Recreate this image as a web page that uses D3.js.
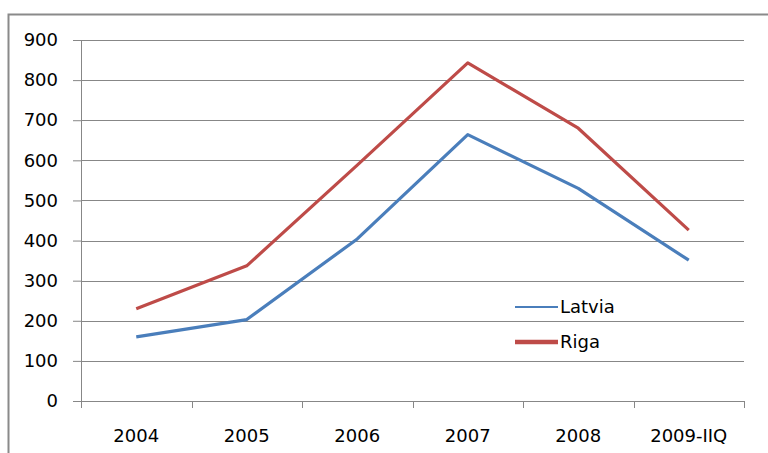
<!DOCTYPE html>
<html>
<head>
<meta charset="utf-8">
<script src="https://cdn.jsdelivr.net/npm/d3@7"></script>
<style>
  body { margin: 0; background: #fff; }
  text { font-family: "DejaVu Sans", sans-serif; fill: #000; }
</style>
</head>
<body>
<div class="canvas"></div>
<script>
// data
const years = ['2004', '2005', '2006', '2007', '2008', '2009-IIQ'];
const latvia = [160, 203, 404, 664, 530, 351];
const riga = [230, 337, 588, 843, 680, 426];
const yTicks = [0, 100, 200, 300, 400, 500, 600, 700, 800, 900];

const series = [
  {name: 'Latvia', values: latvia, color: '#4a7ebb', legendWidth: 2},
  {name: 'Riga', values: riga, color: '#be4b48', legendWidth: 4.5}
];

const svg = d3.select('.canvas')
  .append('svg')
    .attr('width', 768)
    .attr('height', 453);

// outer frame (runs off the right and bottom edge)
svg.append('rect')
  .attr('x', 8.5).attr('y', 14.5)
  .attr('width', 800).attr('height', 500)
  .attr('fill', 'none')
  .attr('stroke', '#8a8a8a')
  .attr('stroke-width', 2);

const margin = {top: 40, left: 81, right: 24, bottom: 52};
const graphWidth = 768 - margin.left - margin.right;
const graphHeight = 453 - margin.top - margin.bottom;

const graph = svg.append('g')
  .attr('transform', `translate(${margin.left}, ${margin.top})`);

const x = d3.scaleBand()
  .domain(years)
  .range([0, graphWidth]);

const y = d3.scaleLinear()
  .domain([0, 900])
  .range([graphHeight, 0]);

// gridlines
graph.append('g')
  .selectAll('line')
  .data(yTicks)
  .enter()
  .append('line')
    .attr('x1', 0)
    .attr('x2', graphWidth)
    .attr('y1', d => Math.round(y(d)) + 0.5)
    .attr('y2', d => Math.round(y(d)) + 0.5)
    .attr('stroke', '#878787')
    .attr('stroke-width', 1);

// y axis
const yAxisGroup = graph.append('g')
  .call(d3.axisLeft(y).tickValues(yTicks).tickSize(8).tickPadding(15));

// x axis with ticks between categories
const xAxisGroup = graph.append('g')
  .attr('transform', `translate(0, ${graphHeight})`)
  .call(d3.axisBottom(x).tickSize(0).tickPadding(28));

xAxisGroup.selectAll('.tick-between')
  .data(d3.range(years.length + 1))
  .enter()
  .append('line')
    .attr('class', 'tick-between')
    .attr('x1', i => Math.round(i * x.step()) + 0.5)
    .attr('x2', i => Math.round(i * x.step()) + 0.5)
    .attr('y1', 0)
    .attr('y2', 7)
    .attr('stroke', '#878787');

[yAxisGroup, xAxisGroup].forEach(g => {
  g.select('.domain').attr('stroke', '#878787');
  g.selectAll('.tick line').attr('stroke', '#878787');
  g.selectAll('text')
    .attr('font-size', 18)
    .attr('font-family', '"DejaVu Sans", sans-serif')
    .attr('fill', '#000');
});
yAxisGroup.select('.domain').attr('d', `M-8,${graphHeight + 0.5}H0.5V0.5H-8`);
xAxisGroup.select('.domain').attr('d', `M0.5,0.5H${graphWidth + 0.5}`);

// lines
const line = d3.line()
  .x((d, i) => x(years[i]) + x.bandwidth() / 2)
  .y(d => y(d));

graph.selectAll('.series')
  .data(series)
  .enter()
  .append('path')
    .attr('class', 'series')
    .attr('d', d => line(d.values))
    .attr('fill', 'none')
    .attr('stroke', d => d.color)
    .attr('stroke-width', 3.2)
    .attr('stroke-linejoin', 'round');

// legend
const legend = svg.append('g')
  .attr('transform', 'translate(515, 307)');

const items = legend.selectAll('g')
  .data(series)
  .enter()
  .append('g')
    .attr('transform', (d, i) => `translate(0, ${i * 35})`);

items.append('line')
  .attr('x1', 0).attr('x2', 43)
  .attr('y1', 0).attr('y2', 0)
  .attr('stroke', d => d.color)
  .attr('stroke-width', d => d.legendWidth);

items.append('text')
  .attr('x', 45)
  .attr('y', 0)
  .attr('dy', '0.35em')
  .attr('font-size', 18)
  .text(d => d.name);
</script>
</body>
</html>
